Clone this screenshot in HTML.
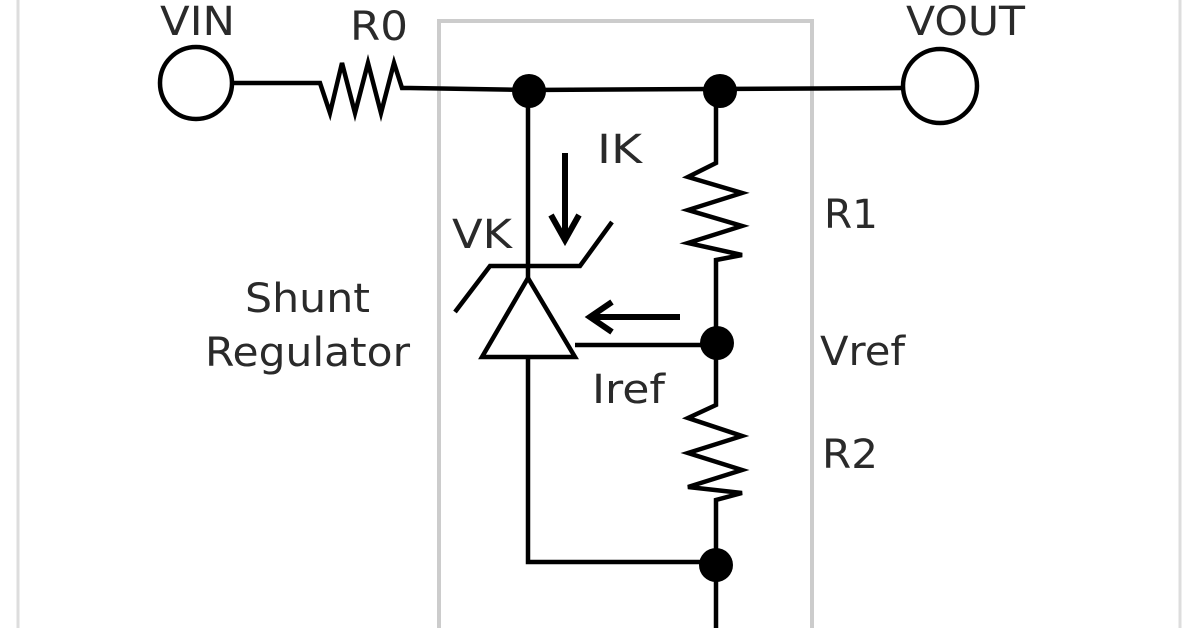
<!DOCTYPE html>
<html><head><meta charset="utf-8"><style>
html,body{margin:0;padding:0;background:#fff;}
svg text{font-family:"DejaVu Sans","Liberation Sans",sans-serif;font-size:40px;fill:#2a2a2a;}
</style></head><body>
<svg width="1197" height="628" viewBox="0 0 1197 628" xmlns="http://www.w3.org/2000/svg">
<rect width="1197" height="628" fill="#fff"/>
<line x1="18" y1="0" x2="18" y2="628" stroke="#ddd" stroke-width="3"/>
<line x1="1180" y1="0" x2="1180" y2="628" stroke="#ddd" stroke-width="3"/>
<polyline points="439,640 439,21 812,21 812,640" fill="none" stroke="#ccc" stroke-width="4"/>
<g fill="none" stroke="#000" stroke-width="4.5" stroke-linejoin="miter">
<circle cx="196" cy="83" r="36" fill="#fff"/>
<circle cx="940" cy="86" r="37" fill="#fff"/>
<polyline points="232,83 320,83 330,113 342,63 355,113 368,63 381,113 394,63 402,88 410,88 528,90"/>
<line x1="528" y1="90" x2="903" y2="88"/>
<line x1="528" y1="90" x2="528" y2="278"/>
<polygon points="528,278 482,357 575,357" fill="#fff"/>
<polyline points="455,312 490,266 580,266 612,222"/>
<polyline points="528,357 528,562 718,562"/>
<line x1="575" y1="345" x2="718" y2="345"/>
<polyline points="716,90 716,163 688,177 742,193 688,210 742,226 688,243 742,255 716,260 716,345"/>
<polyline points="716,345 716,405 688,418 742,436 688,453 742,470 688,487 742,493 716,500 716,628"/>
</g>
<line x1="565" y1="153" x2="565" y2="235" stroke="#000" stroke-width="6"/>
<polyline points="551,215 565,240 579,215" fill="none" stroke="#000" stroke-width="6"/>
<line x1="680" y1="317" x2="592" y2="317" stroke="#000" stroke-width="6"/>
<polyline points="612,302 590,317 612,332" fill="none" stroke="#000" stroke-width="6"/>
<g fill="#000">
<circle cx="529" cy="91" r="17"/>
<circle cx="720" cy="91" r="17"/>
<circle cx="717" cy="343" r="17"/>
<circle cx="716" cy="565" r="17"/>
</g>
<text x="160" y="35" textLength="75" lengthAdjust="spacingAndGlyphs">VIN</text>
<text x="350" y="40" textLength="58" lengthAdjust="spacingAndGlyphs">R0</text>
<text x="906" y="35" textLength="119" lengthAdjust="spacingAndGlyphs">VOUT</text>
<text x="597" y="163" textLength="45" lengthAdjust="spacingAndGlyphs">IK</text>
<text x="452" y="248" textLength="60" lengthAdjust="spacingAndGlyphs">VK</text>
<text x="245" y="312" textLength="125" lengthAdjust="spacingAndGlyphs">Shunt</text>
<text x="205" y="366" textLength="205" lengthAdjust="spacingAndGlyphs">Regulator</text>
<text x="824" y="228" textLength="54" lengthAdjust="spacingAndGlyphs">R1</text>
<text x="820" y="365" textLength="85" lengthAdjust="spacingAndGlyphs">Vref</text>
<text x="592" y="403" textLength="73" lengthAdjust="spacingAndGlyphs">Iref</text>
<text x="822" y="468" textLength="56" lengthAdjust="spacingAndGlyphs">R2</text>
</svg>
</body></html>
